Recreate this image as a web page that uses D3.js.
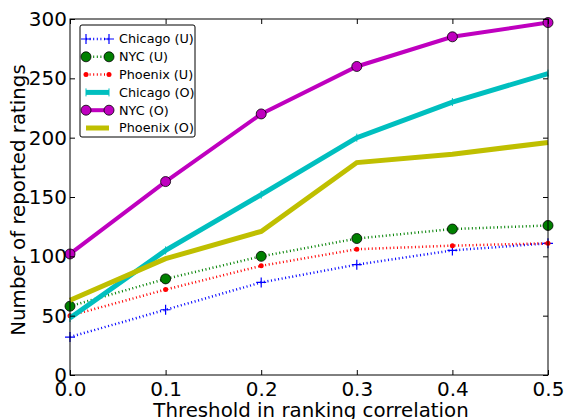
<!DOCTYPE html>
<html>
<head>
<meta charset="utf-8">
<script src="https://cdn.jsdelivr.net/npm/d3@7"></script>
<style>
  body { margin: 0; background: #fff; }
  text { font-family: "DejaVu Sans", sans-serif; }
</style>
</head>
<body>
<div id="chart"></div>
<script>
// threshold values on the x axis
const thresholds = [0.0, 0.1, 0.2, 0.3, 0.4, 0.5];

// series
const chicagoU = [32, 55, 78, 93, 105, 111];
const nycU     = [58, 81, 100, 115, 123, 126];
const phoenixU = [50, 72, 92, 106, 109, 111];
const chicagoO = [48, 105, 152, 200, 230, 254];
const nycO     = [102, 163, 220, 260, 285, 297];
const phoenixO = [63, 98, 121, 179, 186, 196];

const xTicks = [0.0, 0.1, 0.2, 0.3, 0.4, 0.5];
const yTicks = [0, 50, 100, 150, 200, 250, 300];

const width = 566, height = 419;
const margin = {top: 19, right: 18, bottom: 44, left: 70};

const series = [
  {name: "Chicago (U)", values: chicagoU, color: "#0000ff", lw: 2.5, dash: "1,2.6", marker: "plus"},
  {name: "NYC (U)", values: nycU, color: "#008000", lw: 2.5, dash: "1,2.6", marker: "circle"},
  {name: "Phoenix (U)", values: phoenixU, color: "#ff0000", lw: 2.5, dash: "1,2.6", marker: "dot"},
  {name: "Chicago (O)", values: chicagoO, color: "#00bfbf", lw: 5, dash: null, marker: "tick"},
  {name: "NYC (O)", values: nycO, color: "#bf00bf", lw: 4, dash: null, marker: "circle"},
  {name: "Phoenix (O)", values: phoenixO, color: "#bfbf00", lw: 5, dash: null, marker: null}
];

const svg = d3.select("#chart")
  .append("svg")
  .attr("width", width)
  .attr("height", height);

const xScale = d3.scaleLinear()
  .domain([0, 0.5])
  .range([margin.left, width - margin.right]);

const yScale = d3.scaleLinear()
  .domain([0, 300])
  .range([height - margin.bottom, margin.top]);

// draws one marker at (x, y)
function drawMarker(g, s, x, y) {
  if (s.marker === "plus") {
    g.append("path")
      .attr("d", `M${x-5},${y}H${x+5}M${x},${y-5}V${y+5}`)
      .attr("stroke", s.color).attr("stroke-width", 1.2).attr("fill", "none");
  } else if (s.marker === "circle") {
    g.append("circle")
      .attr("cx", x).attr("cy", y).attr("r", 5)
      .attr("fill", s.color).attr("stroke", "#000").attr("stroke-width", 0.8);
  } else if (s.marker === "dot") {
    g.append("circle")
      .attr("cx", x).attr("cy", y).attr("r", 2.5)
      .attr("fill", s.color);
  } else if (s.marker === "tick") {
    g.append("path")
      .attr("d", `M${x},${y-4}V${y+4}`)
      .attr("stroke", s.color).attr("stroke-width", 1);
  }
}

const line = d3.line()
  .x((d, i) => xScale(thresholds[i]))
  .y(d => yScale(d));

const plot = svg.append("g");

// draw in order so the (O) lines sit on top of the (U) lines
series.forEach(s => {
  plot.append("path")
    .datum(s.values)
    .attr("d", line)
    .attr("fill", "none")
    .attr("stroke", s.color)
    .attr("stroke-width", s.lw)
    .attr("stroke-dasharray", s.dash);
  const mg = plot.append("g");
  s.values.forEach((v, i) => drawMarker(mg, s, xScale(thresholds[i]), yScale(v)));
});

// frame
svg.append("rect")
  .attr("x", margin.left).attr("y", margin.top)
  .attr("width", width - margin.left - margin.right)
  .attr("height", height - margin.top - margin.bottom)
  .attr("fill", "none").attr("stroke", "#000").attr("stroke-width", 1);

// axes, ticks pointing inward
const xAxis = svg.append("g")
  .attr("transform", `translate(0,${height - margin.bottom})`)
  .call(d3.axisBottom(xScale).tickValues(xTicks).tickFormat(d3.format(".1f"))
    .tickSizeInner(-5).tickSizeOuter(0).tickPadding(7));
xAxis.select(".domain").remove();
xAxis.selectAll("text").attr("font-size", "20px").attr("fill", "#000");

const xTop = svg.append("g")
  .attr("transform", `translate(0,${margin.top})`)
  .call(d3.axisTop(xScale).tickValues(xTicks).tickFormat("").tickSizeInner(-5).tickSizeOuter(0));
xTop.select(".domain").remove();

const yAxis = svg.append("g")
  .attr("transform", `translate(${margin.left},0)`)
  .call(d3.axisLeft(yScale).tickValues(yTicks)
    .tickSizeInner(-5).tickSizeOuter(0).tickPadding(3));
yAxis.select(".domain").remove();
yAxis.selectAll("text").attr("font-size", "20px").attr("fill", "#000");

const yRight = svg.append("g")
  .attr("transform", `translate(${width - margin.right},0)`)
  .call(d3.axisRight(yScale).tickValues(yTicks).tickFormat("").tickSizeInner(-5).tickSizeOuter(0));
yRight.select(".domain").remove();

// axis labels
svg.append("text")
  .attr("x", (margin.left + width - margin.right) / 2 + 2)
  .attr("y", 417)
  .attr("text-anchor", "middle")
  .attr("font-size", "19.8px")
  .text("Threshold in ranking correlation");

svg.append("text")
  .attr("transform", `translate(25,${(margin.top + height - margin.bottom) / 2 + 3}) rotate(-90)`)
  .attr("text-anchor", "middle")
  .attr("font-size", "19.8px")
  .text("Number of reported ratings");

// legend
const legend = svg.append("g").attr("transform", "translate(80,25)");
legend.append("rect")
  .attr("width", 115).attr("height", 112).attr("rx", 2)
  .attr("fill", "#fff").attr("stroke", "#000").attr("stroke-width", 1);

series.forEach((s, i) => {
  const y = 14 + i * 17.8;
  legend.append("path")
    .attr("d", `M6,${y}H29`)
    .attr("stroke", s.color)
    .attr("stroke-width", s.lw)
    .attr("stroke-dasharray", s.dash)
    .attr("fill", "none");
  const mg = legend.append("g");
  if (s.marker) {
    drawMarker(mg, s, 6, y);
    drawMarker(mg, s, 29, y);
  }
  legend.append("text")
    .attr("x", 39).attr("y", y)
    .attr("dy", "0.35em")
    .attr("font-size", "12.8px")
    .text(s.name);
});
</script>
</body>
</html>
